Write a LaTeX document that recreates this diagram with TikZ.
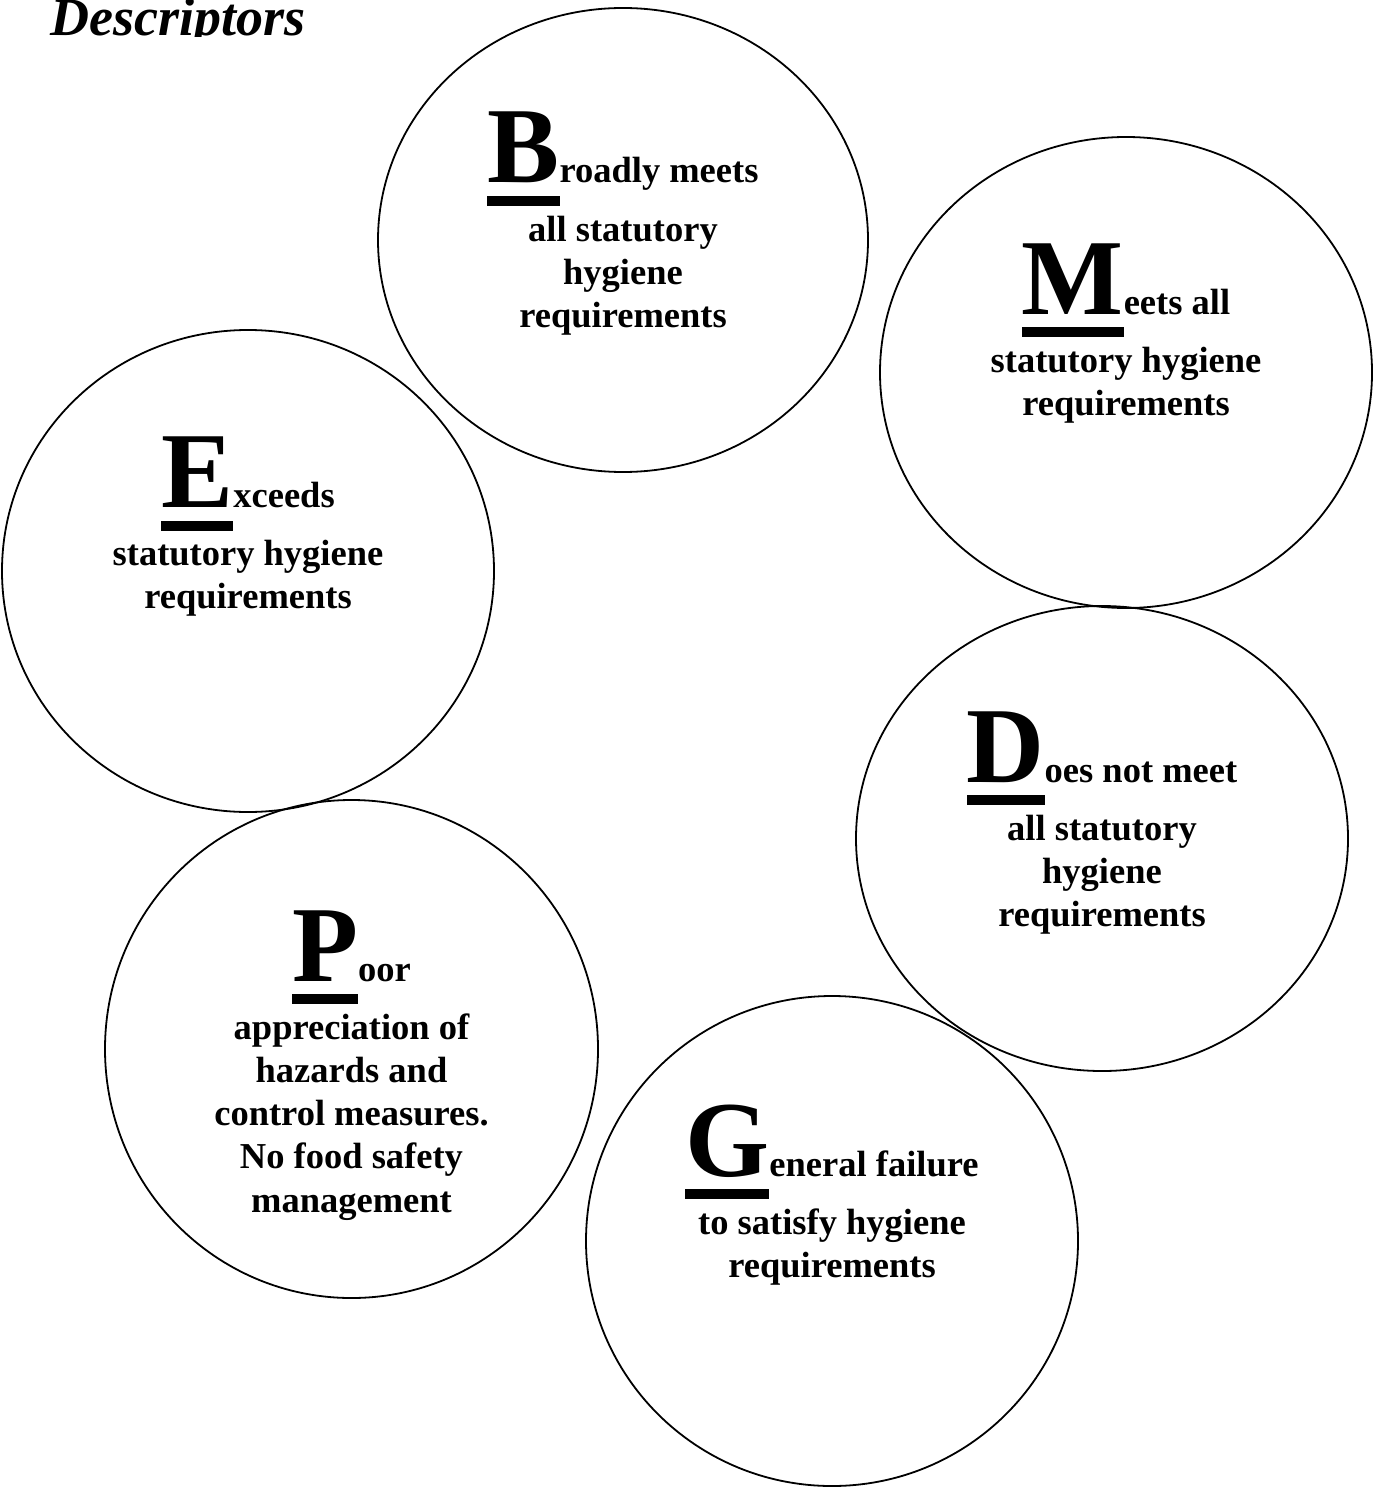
\documentclass[tikz,border=0pt]{standalone}
\usepackage{fontspec}
\setmainfont{Liberation Serif}
\usetikzlibrary{shapes.geometric}
\lineskiplimit=-100pt
\newsavebox\bigletterbox
\newcommand\bigL[1]{\sbox\bigletterbox{\fontsize{108pt}{108pt}\selectfont #1}\rlap{\rule[-23pt]{\wd\bigletterbox}{10pt}}\usebox\bigletterbox}
\begin{document}
\begin{tikzpicture}[x=1pt,y=-1pt,
  ell/.style={draw, line width=1.8pt, ellipse, inner sep=0pt},
  txt/.style={align=center, anchor=base, inner sep=0pt,
    font=\bfseries\fontsize{36.5pt}{43.3pt}\selectfont}]
\useasboundingbox (0,0) rectangle (1375,1487);
\begin{scope}
\clip (0,0) rectangle (400,37);
\node[anchor=base west, inner sep=0pt, font=\bfseries\itshape\fontsize{54pt}{54pt}\selectfont] (title) at (50,36) {Descriptors};
\end{scope}
% circles
\node[ell, minimum width=490pt, minimum height=464pt] (B) at (623,240) {};
\node[ell, minimum width=492pt, minimum height=471pt] (M) at (1126,372.5) {};
\node[ell, minimum width=492pt, minimum height=482pt] (E) at (248,571) {};
\node[ell, minimum width=492pt, minimum height=465pt] (D) at (1102,838.5) {};
\node[ell, minimum width=493pt, minimum height=498pt] (P) at (351.5,1049) {};
\node[ell, minimum width=492pt, minimum height=490pt] (G) at (832,1241) {};
% texts (anchored at the baseline of the last line)
\node[txt] (Bt) at (623,327.6) {\bigL{B}roadly meets\\[14.7pt]all statutory\\hygiene\\requirements};
\node[txt] (Mt) at (1126,415.3) {\bigL{M}eets all\\[14.7pt]statutory hygiene\\requirements};
\node[txt] (Et) at (248,608.8) {\bigL{E}xceeds\\[14.7pt]statutory hygiene\\requirements};
\node[txt] (Dt) at (1102,926.6) {\bigL{D}oes not meet\\[14.7pt]all statutory\\hygiene\\requirements};
\node[txt] (Pt) at (351.5,1212.2) {\bigL{P}oor\\[14.7pt]appreciation of\\hazards and\\control measures.\\No food safety\\management};
\node[txt] (Gt) at (832,1277.3) {\bigL{G}eneral failure\\[14.7pt]to satisfy hygiene\\requirements};
\end{tikzpicture}
\end{document}
